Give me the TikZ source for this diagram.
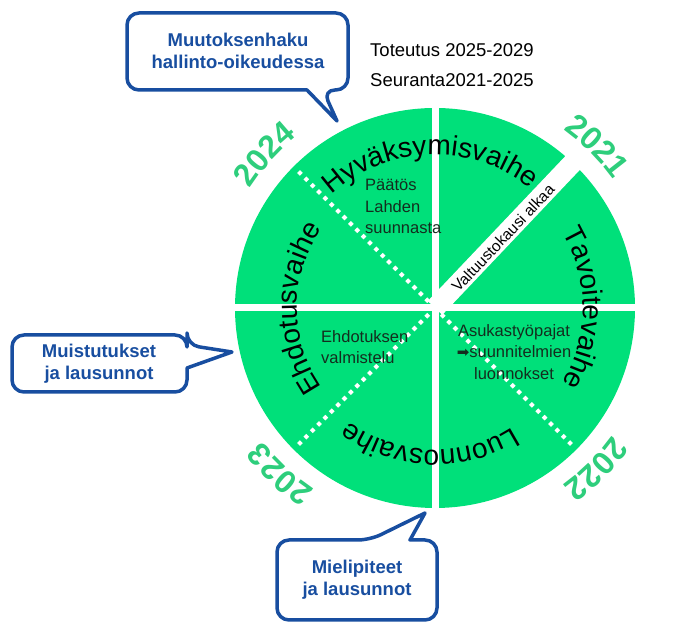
\documentclass[tikz,border=0pt]{standalone}
\usepackage{fontspec}
\setmainfont{Liberation Sans}
\newfontfamily\dejavu{DejaVu Sans}
\usetikzlibrary{decorations.text}
\definecolor{wheel}{RGB}{0,224,122}
\definecolor{yeargreen}{RGB}{46,206,124}
\definecolor{callblue}{RGB}{24,78,160}
\definecolor{inner}{RGB}{20,45,30}
\tikzset{
  callout/.style={draw=callblue, line width=3.5pt, fill=white, line join=round},
  callouttext/.style={text=callblue, font=\bfseries\fontsize{18.5}{22}\selectfont, align=center},
  innertext/.style={text=inner, font=\fontsize{16.5}{21.5}\selectfont, inner sep=0pt},
  gap/.style={draw=white, line width=7pt},
  dots/.style={draw=white, line width=4pt, dash pattern=on 4pt off 5pt},
  phase/.style={decorate, decoration={text along path, text align=center, text={#1}}},
}
\begin{document}
\begin{tikzpicture}[x=1pt,y=1pt]
\useasboundingbox (0,0) rectangle (679,628);
\coordinate (C) at (435,320);
% wheel
\fill[wheel] (C) circle[radius=200];
\draw[gap] (435,112) -- (435,528);
\draw[gap] (227,320) -- (643,320);
\draw[dots] (C) -- ++(135:196);
\draw[dots] (C) -- ++(225:196);
\draw[dots] (C) -- ++(315:196);
\draw[draw=white, line width=20pt] (C) -- ++(46.5:215);
\node[rotate=46.5, font=\fontsize{15.5}{16}\selectfont, inner sep=0pt] (valt) at (503,390) {Valtuustokausi alkaa};
% phase names
\path[phase={|\fontsize{28}{28}\selectfont|Hyväksymisvaihe}] (C) ++(152:153) arc[start angle=152,end angle=32,radius=153];
\path[phase={|\fontsize{28}{28}\selectfont|Tavoitevaihe}] (C) ++(60:148) arc[start angle=60,end angle=-60,radius=148];
\path[phase={|\fontsize{28}{28}\selectfont|Luonnosvaihe}] (C) ++(-32:142) arc[start angle=-32,end angle=-152,radius=142];
\path[phase={|\fontsize{28}{28}\selectfont|Ehdotusvaihe}] (C) ++(240:138) arc[start angle=240,end angle=120,radius=138];
% years
\path[phase={|\bfseries\fontsize{32}{32}\selectfont\color{yeargreen}|2024}] (C) ++(168:220) arc[start angle=168,end angle=108,radius=220];
\path[phase={|\bfseries\fontsize{32}{32}\selectfont\color{yeargreen}|2021}] (C) ++(75:220) arc[start angle=75,end angle=15,radius=220];
\path[phase={|\bfseries\fontsize{32}{32}\selectfont\color{yeargreen}|2022}] (C) ++(-15:218) arc[start angle=-15,end angle=-75,radius=218];
\path[phase={|\bfseries\fontsize{32}{32}\selectfont\color{yeargreen}|2023}] (C) ++(-103:218) arc[start angle=-103,end angle=-163,radius=218];
% inner texts
\node[innertext, anchor=north west, align=left] (paatos) at (365,449) {Päätös\\Lahden\\suunnasta};
\node[innertext, anchor=north west, align=left] (ehd) at (321,298) {Ehdotuksen\\valmistelu};
\node[innertext, anchor=north, align=center] (asuk) at (514,304) {Asukastyöpajat\\{\dejavu\fontsize{15}{15}\selectfont ➡}suunnitelmien\\luonnokset};
% top right texts
\node[font=\fontsize{18.5}{20}\selectfont, anchor=west, inner sep=0pt] (tot) at (370,578) {Toteutus 2025-2029};
\node[font=\fontsize{18.5}{20}\selectfont, anchor=west, inner sep=0pt] (seu) at (370,548) {Seuranta2021-2025};
% callouts
\draw[callout, rounded corners=12pt] (127,615) -- (348,615) -- (348,538) -- (323,538) [sharp corners] -- (337,507) -- (307,538) [rounded corners=12pt] -- (127,538) -- cycle;
\node[callouttext] (c1) at (238,577) {Muutoksenhaku\\hallinto-oikeudessa};
\draw[callout, rounded corners=12pt] (12,293) -- (187,293) -- (187,283) [sharp corners] -- (232,276) -- (187,260) [rounded corners=12pt] -- (187,236) -- (12,236) -- cycle;
\node[callouttext] (c2) at (99,264) {Muistutukset\\ja lausunnot};
\draw[callout, rounded corners=12pt] (277,88) -- (370,88) [sharp corners] -- (425,115) -- (410,88) [rounded corners=12pt] -- (437,88) -- (437,8) -- (277,8) -- cycle;
\node[callouttext] (c3) at (357,48) {Mielipiteet\\ja lausunnot};
\end{tikzpicture}
\end{document}
